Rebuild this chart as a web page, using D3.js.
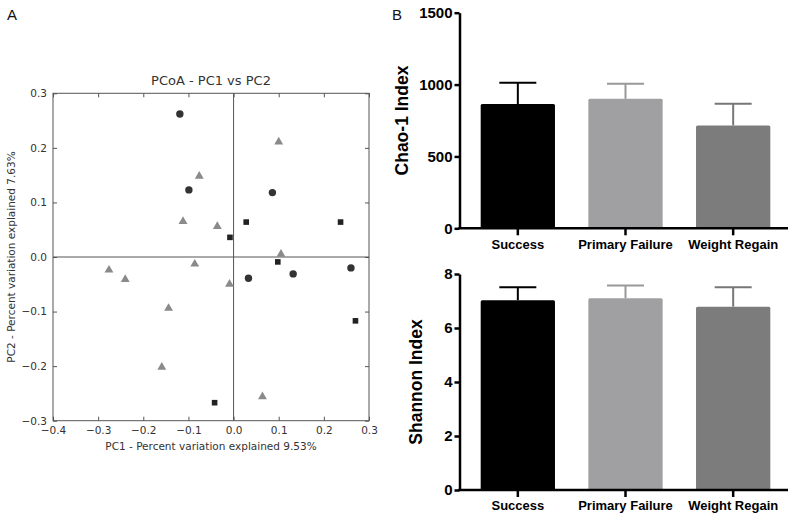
<!DOCTYPE html>
<html>
<head>
<meta charset="utf-8">
<script src="https://cdn.jsdelivr.net/npm/d3@7"></script>
<style>
  html, body { margin: 0; padding: 0; background: #fff; }
  svg { display: block; }
</style>
</head>
<body>
<svg id="chart" width="800" height="519"></svg>
<script>
// ---------- Data ----------
// Panel A: PCoA scatter (PC1, PC2)
const circlePC1 = [-0.119, -0.099, 0.086, 0.033, 0.132, 0.260];
const circlePC2 = [0.262, 0.123, 0.118, -0.039, -0.031, -0.020];
const squarePC1 = [0.028, 0.237, -0.008, 0.098, 0.270, -0.042];
const squarePC2 = [0.064, 0.064, 0.036, -0.009, -0.117, -0.267];
const trianglePC1 = [0.100, -0.076, -0.112, -0.036, -0.276, -0.240, -0.086, -0.009, 0.105, -0.144, -0.159, 0.064];
const trianglePC2 = [0.212, 0.149, 0.066, 0.057, -0.023, -0.040, -0.012, -0.049, 0.006, -0.093, -0.201, -0.255];
const pc1Ticks = [-0.4, -0.3, -0.2, -0.1, 0.0, 0.1, 0.2, 0.3];
const pc2Ticks = [-0.3, -0.2, -0.1, 0.0, 0.1, 0.2, 0.3];

// Panel B: bar charts
const groups = ["Success", "Primary Failure", "Weight Regain"];
const chaoMean = [864, 901, 716];
const chaoErr = [148, 104, 150];
const shannonMean = [7.03, 7.10, 6.79];
const shannonErr = [0.48, 0.47, 0.72];
const chaoTicks = [0, 500, 1000, 1500];
const shannonTicks = [0, 2, 4, 6, 8];

// ---------- Drawing ----------
const svg = d3.select("#chart");
const fmt = v => d3.format(".1f")(v).replace("-", "\u2212");

// Panel letters
svg.append("text").attr("x", 7).attr("y", 20).attr("font-family", "Liberation Sans, Arial, sans-serif")
  .attr("font-size", 15).attr("fill", "#111").text("A");
svg.append("text").attr("x", 392).attr("y", 20).attr("font-family", "Liberation Sans, Arial, sans-serif")
  .attr("font-size", 15).attr("fill", "#111").text("B");

// ---- Panel A ----
const ax = { left: 53, right: 369, top: 93.3, bottom: 420.7 };
const xS = d3.scaleLinear().domain([-0.4, 0.3]).range([ax.left, ax.right]);
const yS = d3.scaleLinear().domain([-0.3, 0.3]).range([ax.bottom, ax.top]);
const gA = svg.append("g").attr("font-family", "DejaVu Sans, sans-serif");
const frameCol = "#555";

// inward ticks on all sides
const tickLen = 4;
const xb = d3.axisBottom(xS).tickValues(pc1Ticks).tickFormat(fmt).tickSizeInner(-tickLen).tickSizeOuter(0).tickPadding(6);
const xt = d3.axisTop(xS).tickValues(pc1Ticks).tickFormat("").tickSizeInner(-tickLen).tickSizeOuter(0);
const yl = d3.axisLeft(yS).tickValues(pc2Ticks).tickFormat(fmt).tickSizeInner(-tickLen).tickSizeOuter(0).tickPadding(6);
const yr = d3.axisRight(yS).tickValues(pc2Ticks).tickFormat("").tickSizeInner(-tickLen).tickSizeOuter(0);
[[xb, `translate(0,${ax.bottom})`], [xt, `translate(0,${ax.top})`], [yl, `translate(${ax.left},0)`], [yr, `translate(${ax.right},0)`]]
  .forEach(([a, t]) => {
    const g = gA.append("g").attr("transform", t).call(a);
    g.select(".domain").remove();
    g.selectAll("line").attr("stroke", frameCol).attr("stroke-width", 1);
    g.selectAll("text").attr("fill", "#333").attr("font-size", 10.5).attr("font-family", "DejaVu Sans, sans-serif");
  });
gA.append("rect").attr("x", ax.left).attr("y", ax.top).attr("width", ax.right - ax.left).attr("height", ax.bottom - ax.top)
  .attr("fill", "none").attr("stroke", frameCol).attr("stroke-width", 1);
// zero lines
gA.append("line").attr("x1", xS(0)).attr("x2", xS(0)).attr("y1", ax.top).attr("y2", ax.bottom).attr("stroke", frameCol);
gA.append("line").attr("x1", ax.left).attr("x2", ax.right).attr("y1", yS(0)).attr("y2", yS(0)).attr("stroke", frameCol);

// title and labels
gA.append("text").attr("x", (ax.left + ax.right) / 2).attr("y", 85).attr("text-anchor", "middle")
  .attr("font-size", 13).attr("fill", "#333").text("PCoA - PC1 vs PC2");
gA.append("text").attr("x", (ax.left + ax.right) / 2).attr("y", 450).attr("text-anchor", "middle")
  .attr("font-size", 10.5).attr("fill", "#333").text("PC1 - Percent variation explained 9.53%");
gA.append("text").attr("transform", `translate(15,${yS(0)}) rotate(-90)`).attr("text-anchor", "middle")
  .attr("font-size", 10.5).attr("fill", "#333").text("PC2 - Percent variation explained 7.63%");

// markers
const triData = trianglePC1.map((v, i) => [v, trianglePC2[i]]);
const cirData = circlePC1.map((v, i) => [v, circlePC2[i]]);
const sqData = squarePC1.map((v, i) => [v, squarePC2[i]]);
gA.selectAll(".tri").data(triData).enter().append("path")
  .attr("d", d3.symbol().type(d3.symbolTriangle).size(34))
  .attr("transform", d => `translate(${xS(d[0])},${yS(d[1]) + 0.5})`)
  .attr("fill", "#8a8a8a");
gA.selectAll(".cir").data(cirData).enter().append("circle")
  .attr("cx", d => xS(d[0])).attr("cy", d => yS(d[1])).attr("r", 3.7)
  .attr("fill", "#333");
gA.selectAll(".sq").data(sqData).enter().append("rect")
  .attr("x", d => xS(d[0]) - 2.8).attr("y", d => yS(d[1]) - 2.8).attr("width", 5.6).attr("height", 5.6)
  .attr("fill", "#222");

// ---- Panel B ----
const barCols = ["#000000", "#a0a0a2", "#7c7c7c"];
const errCols = ["#000000", "#999999", "#777777"];
const xB = d3.scaleBand().domain(groups).range([464, 787]).paddingInner(0.31).paddingOuter(0.155);

function barPanel(top, bottom, domainMax, ticks, means, errs, label, labelX) {
  const y = d3.scaleLinear().domain([0, domainMax]).range([bottom, top]);
  const g = svg.append("g").attr("font-family", "Liberation Sans, Arial, sans-serif");
  // bars
  g.selectAll(".bar").data(groups).enter().append("rect")
    .attr("x", d => xB(d)).attr("width", xB.bandwidth())
    .attr("y", (d, i) => y(means[i])).attr("height", (d, i) => bottom - y(means[i]))
    .attr("rx", 1.5)
    .attr("fill", (d, i) => barCols[i]);
  // error bars
  groups.forEach((d, i) => {
    const cx = xB(d) + xB.bandwidth() / 2;
    g.append("line").attr("x1", cx).attr("x2", cx).attr("y1", y(means[i])).attr("y2", y(means[i] + errs[i]))
      .attr("stroke", errCols[i]).attr("stroke-width", 2);
    g.append("line").attr("x1", cx - 18.5).attr("x2", cx + 18.5).attr("y1", y(means[i] + errs[i])).attr("y2", y(means[i] + errs[i]))
      .attr("stroke", errCols[i]).attr("stroke-width", 2);
  });
  // y axis
  const ya = g.append("g").attr("transform", "translate(459.5,0)")
    .call(d3.axisLeft(y).tickValues(ticks).tickFormat(d3.format("d")).tickSizeInner(5).tickSizeOuter(0).tickPadding(2));
  ya.select(".domain").attr("stroke", "#000").attr("stroke-width", 2.5);
  ya.selectAll("line").attr("stroke", "#000").attr("stroke-width", 2.5);
  ya.selectAll("text").attr("font-size", 15).attr("font-weight", "bold").attr("fill", "#000")
    .attr("font-family", "Liberation Sans, Arial, sans-serif");
  // x axis
  const xa = g.append("g").attr("transform", `translate(0,${bottom})`)
    .call(d3.axisBottom(xB).tickSizeInner(7).tickSizeOuter(0).tickPadding(4));
  xa.select(".domain").attr("d", `M458.3,0H788`).attr("stroke", "#000").attr("stroke-width", 2.5);
  xa.selectAll("line").attr("stroke", "#000").attr("stroke-width", 2.5);
  xa.selectAll("text").attr("font-size", 13).attr("font-weight", "bold").attr("fill", "#000")
    .attr("font-family", "Liberation Sans, Arial, sans-serif");
  // label
  g.append("text").attr("transform", `translate(${labelX},${(top + bottom) / 2}) rotate(-90)`)
    .attr("text-anchor", "middle").attr("dy", "0.35em").attr("font-size", 17.5).attr("font-weight", "bold")
    .attr("fill", "#000").text(label);
}
barPanel(12.7, 228.3, 1500, chaoTicks, chaoMean, chaoErr, "Chao-1 Index", 402);
barPanel(274, 490, 8, shannonTicks, shannonMean, shannonErr, "Shannon Index", 416);
</script>
</body>
</html>
